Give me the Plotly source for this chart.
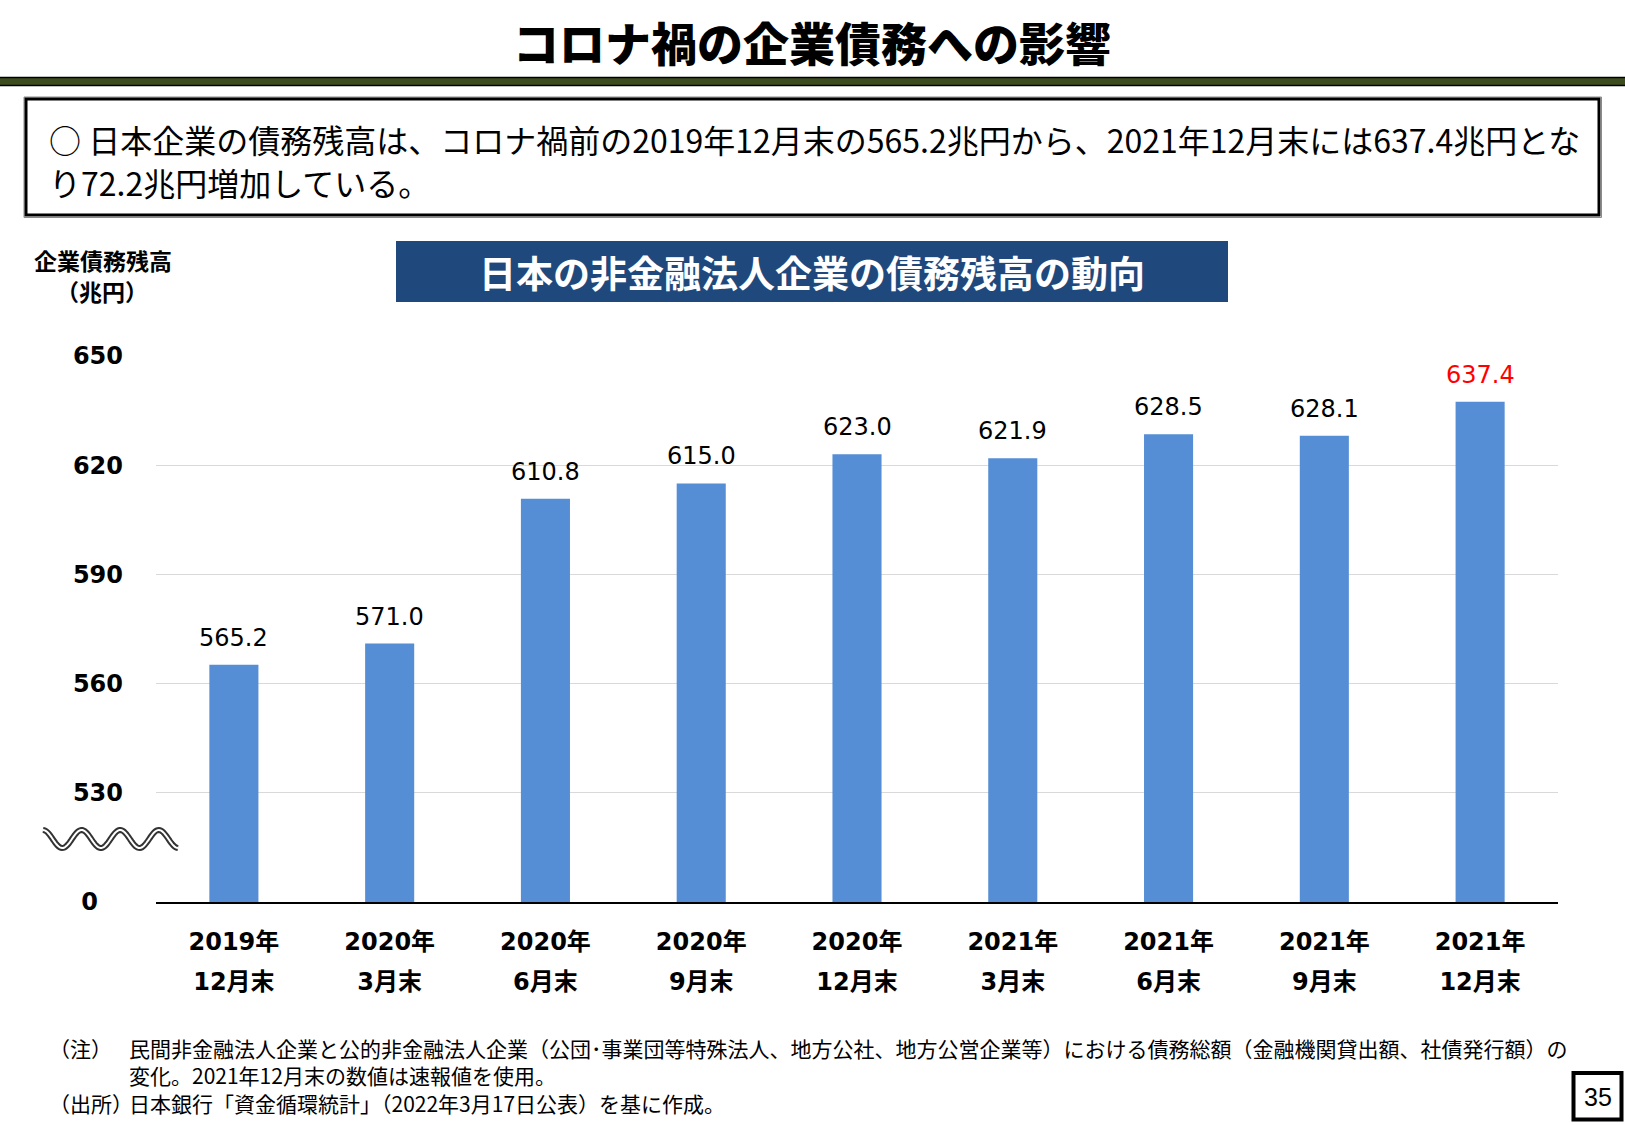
import math
import plotly.graph_objects as go

# ---------------- data ----------------
PERIODS = ["2019年12月末", "2020年3月末", "2020年6月末", "2020年9月末", "2020年12月末",
           "2021年3月末", "2021年6月末", "2021年9月末", "2021年12月末"]
YEAR_LABELS = ["2019年", "2020年", "2020年", "2020年", "2020年", "2021年", "2021年", "2021年", "2021年"]
MONTH_LABELS = ["12月末", "3月末", "6月末", "9月末", "12月末", "3月末", "6月末", "9月末", "12月末"]
DEBT = [565.2, 571.0, 610.8, 615.0, 623.0, 621.9, 628.5, 628.1, 637.4]
Y_TICK_VALUES = [500, 530, 560, 590, 620, 650]
Y_TICK_LABELS = ["0\u00a0\u00a0\u00a0", "530", "560", "590", "620", "650"]

TITLE = "コロナ禍の企業債務への影響"
SUMMARY_1 = "○ 日本企業の債務残高は、コロナ禍前の2019年12月末の565.2兆円から、2021年12月末には637.4兆円とな"
SUMMARY_2 = "り72.2兆円増加している。"
CHART_TITLE = "日本の非金融法人企業の債務残高の動向"
Y_TITLE_1 = "企業債務残高"
Y_TITLE_2 = "（兆円）"
NOTE_LABEL = "（注）"
NOTE_1 = "民間非金融法人企業と公的非金融法人企業（公団･事業団等特殊法人、地方公社、地方公営企業等）における債務総額（金融機関貸出額、社債発行額）の"
NOTE_2 = "変化。2021年12月末の数値は速報値を使用。"
SOURCE_LABEL = "（出所）"
SOURCE = "日本銀行「資金循環統計」（2022年3月17日公表）を基に作成。"
PAGE = "35"

# ---------------- layout geometry ----------------
W, H = 1625, 1125
ML, MR, MT, MB = 156, 67, 356, 223
PW, PH = W - ML - MR, H - MT - MB

def px(x):
    return (x - ML) / PW

def py(y):
    return (H - MB - y) / PH

BAR_COLOR = "#558ed5"
LABEL_COLORS = ["#000000"] * (len(DEBT) - 1) + ["#ff0000"]
JP = "Noto Sans CJK JP"
NUM = "DejaVu Sans, Noto Sans CJK JP"

fig = go.Figure()
fig.add_trace(go.Bar(x=PERIODS, y=DEBT, marker=dict(color=BAR_COLOR, line=dict(width=0)),
                     width=0.315, hoverinfo="skip", showlegend=False))
fig.add_trace(go.Scatter(x=PERIODS, y=DEBT, xaxis="x2", yaxis="y", mode="markers",
                         marker=dict(opacity=0), hoverinfo="skip", showlegend=False))

shapes = []

def rect(x0, y0, x1, y1, fill=None, line_color=None, line_width=0):
    shapes.append(dict(type="rect", xref="paper", yref="paper",
                       x0=px(x0), x1=px(x1), y0=py(y1), y1=py(y0),
                       fillcolor=fill if fill else "rgba(0,0,0,0)",
                       line=dict(color=line_color if line_color else "rgba(0,0,0,0)", width=line_width),
                       layer="above"))

# header band
rect(-2, 77.5, W + 2, 85.5, fill="#3d4c1f", line_color="#000000", line_width=1.5)
# summary box
rect(24, 97, 1601.5, 217.5, line_color="#8a8a8a", line_width=1)
rect(26, 99, 1599, 215, line_color="#000000", line_width=3)
# chart title banner
rect(396, 241, 1228, 302, fill="#1f497d")
# page number box
rect(1573.5, 1073, 1621.5, 1119.5, line_color="#000000", line_width=4)

# axis-break wave (decoration)
def wave_path():
    pts = []
    n = 120
    for i in range(n + 1):
        x = 43 + (178 - 43) * i / n
        y = 839 - 9 * math.cos(2 * math.pi * (x - 43) / 38.6)
        pts.append((px(x), py(y)))
    return "M " + " L ".join(f"{a:.5f},{b:.5f}" for a, b in pts)

wp = wave_path()
shapes.append(dict(type="path", xref="paper", yref="paper", path=wp,
                   line=dict(color="#333333", width=6), layer="above"))
shapes.append(dict(type="path", xref="paper", yref="paper", path=wp,
                   line=dict(color="#ffffff", width=2), layer="above"))

annotations = []

def text(x, y, s, size, color="#000000", family=JP, weight="normal", xanchor="center", align="center"):
    annotations.append(dict(x=px(x), y=py(y), xref="paper", yref="paper", text=s,
                            showarrow=False, xanchor=xanchor, yanchor="middle", align=align,
                            font=dict(family=family, size=size, color=color, weight=weight)))

text(812, 41, TITLE, 46, weight=900)
text(47, 139, SUMMARY_1, 32, xanchor="left")
text(47, 182, SUMMARY_2, 32, xanchor="left")
text(812, 271.5, CHART_TITLE, 37, color="#ffffff", weight="bold")
text(103, 259.5, Y_TITLE_1, 23, weight="bold")
text(102, 291, Y_TITLE_2, 23, weight="bold")
text(47, 1075, NOTE_LABEL + "<br><br>" + SOURCE_LABEL, 21, xanchor="left", align="left")
text(127, 1075, NOTE_1 + "<br>" + NOTE_2 + "<br>" + SOURCE, 21, xanchor="left", align="left")
text(1597.5, 1097, PAGE, 25, family="Liberation Sans")

# value labels
for cat, v, c in zip(PERIODS, DEBT, LABEL_COLORS):
    annotations.append(dict(x=cat, y=v, xref="x", yref="y", text=f"{v:.1f}", showarrow=False,
                            yanchor="middle", yshift=27,
                            font=dict(family=NUM, size=24, color=c)))

tick_font = dict(family=NUM, size=24, color="#000000", weight="bold")

fig.update_layout(
    width=W, height=H,
    margin=dict(l=ML, r=MR, t=MT, b=MB, pad=0),
    paper_bgcolor="#ffffff", plot_bgcolor="#ffffff",
    showlegend=False,
    bargap=0.685,
    xaxis=dict(type="category", categoryorder="array", categoryarray=PERIODS,
               tickmode="array", tickvals=PERIODS, ticktext=YEAR_LABELS,
               range=[-0.5, len(PERIODS) - 0.5],
               showline=True, linecolor="#000000", linewidth=2, showgrid=False, zeroline=False,
               ticks="", tickfont=tick_font, ticklabelstandoff=17, fixedrange=True),
    xaxis2=dict(type="category", overlaying="x", anchor="y", side="bottom",
                categoryorder="array", categoryarray=PERIODS,
                tickmode="array", tickvals=PERIODS, ticktext=MONTH_LABELS,
                range=[-0.5, len(PERIODS) - 0.5],
                showline=False, showgrid=False, zeroline=False,
                ticks="", tickfont=tick_font, ticklabelstandoff=63, fixedrange=True),
    yaxis=dict(range=[500, 650], tickmode="array", tickvals=Y_TICK_VALUES, ticktext=Y_TICK_LABELS,
               showline=False, showgrid=True, gridcolor="#d9d9d9", gridwidth=1, zeroline=False,
               ticks="", tickfont=tick_font, ticklabelstandoff=32, fixedrange=True),
    shapes=shapes,
    annotations=annotations,
)

fig.write_html("out.html")
